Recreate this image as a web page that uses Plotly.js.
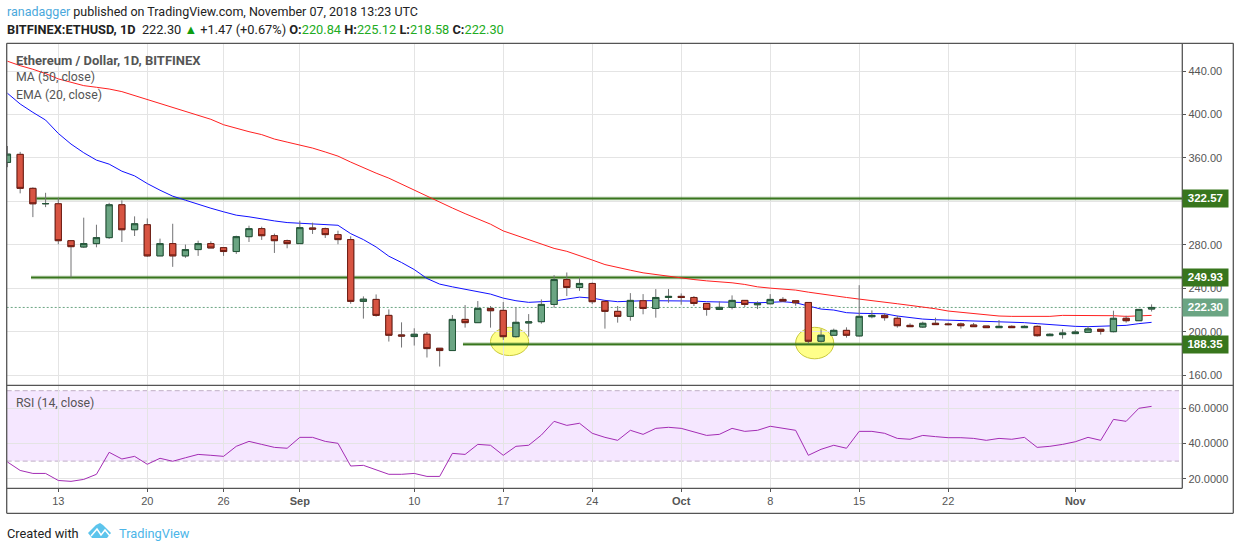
<!DOCTYPE html>
<html>
<head>
<meta charset="utf-8">
<script src="https://cdn.plot.ly/plotly-3.0.1.min.js"></script>
<style>body { margin: 0; background: #fff; }</style>
</head>
<body>
<div id="myDiv"></div>
<script>
var dates = ['2018-08-09','2018-08-10','2018-08-11','2018-08-12','2018-08-13','2018-08-14','2018-08-15','2018-08-16','2018-08-17','2018-08-18',
  '2018-08-19','2018-08-20','2018-08-21','2018-08-22','2018-08-23','2018-08-24','2018-08-25','2018-08-26','2018-08-27','2018-08-28',
  '2018-08-29','2018-08-30','2018-08-31','2018-09-01','2018-09-02','2018-09-03','2018-09-04','2018-09-05','2018-09-06','2018-09-07',
  '2018-09-08','2018-09-09','2018-09-10','2018-09-11','2018-09-12','2018-09-13','2018-09-14','2018-09-15','2018-09-16','2018-09-17',
  '2018-09-18','2018-09-19','2018-09-20','2018-09-21','2018-09-22','2018-09-23','2018-09-24','2018-09-25','2018-09-26','2018-09-27',
  '2018-09-28','2018-09-29','2018-09-30','2018-10-01','2018-10-02','2018-10-03','2018-10-04','2018-10-05','2018-10-06','2018-10-07',
  '2018-10-08','2018-10-09','2018-10-10','2018-10-11','2018-10-12','2018-10-13','2018-10-14','2018-10-15','2018-10-16','2018-10-17',
  '2018-10-18','2018-10-19','2018-10-20','2018-10-21','2018-10-22','2018-10-23','2018-10-24','2018-10-25','2018-10-26','2018-10-27',
  '2018-10-28','2018-10-29','2018-10-30','2018-10-31','2018-11-01','2018-11-02','2018-11-03','2018-11-04','2018-11-05','2018-11-06',
  '2018-11-07'];

var open = [355.9,363.3,332.0,317.8,317.8,283.8,278.0,281.1,286.6,316.9,
  293.9,298.5,269.8,281.1,269.8,275.6,281.1,277.4,273.8,287.5,
  294.9,288.4,283.8,281.1,295.5,294.9,289.4,284.8,227.9,229.7,
  215.0,197.0,195.5,197.6,184.7,182.6,211.3,208.3,221.4,219.6,
  195.4,208.0,209.2,225.1,248.0,240.7,244.4,227.9,218.7,214.1,
  228.5,221.4,231.5,232.5,231.5,226.0,220.5,222.4,228.8,224.8,
  225.7,229.7,228.5,226.9,191.2,196.7,201.2,196.1,213.8,215.0,
  212.3,205.8,204.3,207.7,207.1,207.1,206.1,205.2,203.7,204.9,
  203.7,204.9,196.3,197.3,198.2,199.4,202.2,200.0,212.3,210.1,
  220.84];
var high = [371.0,365.6,332.9,327.9,323.3,283.8,305.0,298.5,318.7,320.9,
  306.2,304.3,285.7,299.4,280.2,283.8,283.2,277.4,288.4,297.6,
  296.7,290.3,284.8,302.2,300.4,295.8,293.0,287.8,232.5,234.3,
  220.5,208.6,203.1,199.7,184.7,215.3,224.5,228.2,223.6,227.3,
  222.4,216.2,229.7,252.0,254.5,249.9,245.3,227.9,223.6,235.5,
  234.6,239.2,239.2,235.2,232.8,226.0,227.9,233.4,228.8,227.9,
  234.6,231.8,228.5,226.9,202.2,202.8,204.0,242.8,219.6,216.9,
  214.7,207.7,209.2,212.9,208.3,208.3,208.0,205.2,210.7,205.8,
  205.8,205.8,198.5,202.2,201.6,205.0,202.2,219.3,214.7,220.5,
  225.12];
var low = [351.5,327.4,305.5,314.7,280.5,249.9,277.1,277.7,285.4,282.6,
  288.1,268.9,269.8,259.7,268.0,269.8,277.1,269.8,271.6,282.6,
  284.5,272.5,276.8,281.1,290.0,286.3,280.5,225.7,212.0,213.8,
  190.9,185.4,187.2,176.2,167.9,182.6,203.7,208.3,203.7,192.4,
  194.5,195.4,207.4,222.0,232.8,237.6,225.4,202.8,208.3,210.1,
  216.0,212.9,226.6,224.8,223.6,214.7,219.9,220.5,222.7,220.8,
  225.1,228.2,223.9,188.7,190.0,196.7,194.5,195.5,212.3,210.1,
  203.7,204.6,203.4,206.5,205.8,202.8,204.6,203.7,203.7,203.7,
  203.7,195.4,196.0,193.6,198.2,199.4,197.3,199.4,208.3,210.1,
  218.58];
var close = [363.5,332.0,317.8,318.0,283.8,278.3,281.1,286.6,316.9,293.9,
  299.4,269.8,281.1,269.8,275.6,281.1,277.1,273.8,287.5,294.9,
  288.4,283.8,281.1,295.8,294.5,289.4,284.8,227.9,229.9,215.0,
  196.7,196.0,197.6,184.4,182.6,211.3,208.3,221.4,219.3,195.4,
  208.6,209.0,225.1,248.0,240.7,244.4,227.6,218.7,214.1,228.8,
  221.4,231.5,232.5,231.5,226.0,220.5,222.4,228.8,225.1,226.0,
  229.7,228.2,226.6,191.2,196.7,201.2,196.7,214.1,215.0,212.9,
  205.5,204.6,207.7,206.5,206.5,205.5,204.6,203.7,204.9,203.7,
  204.9,196.3,197.6,198.8,199.7,202.5,200.3,212.3,210.1,220.5,
  222.30];

var ma50 = [449.1,445.0,441.7,437.7,432.8,429.4,426.6,425.1,423.5,421.1,
  417.4,414.1,410.3,406.9,403.3,399.6,395.6,390.6,387.3,384.2,
  381.5,377.4,374.6,371.9,369.1,365.5,361.7,356.2,351.0,346.0,
  341.4,335.9,330.3,325.1,318.9,313.9,308.7,304.2,299.0,292.8,
  288.8,284.2,280.1,276.7,274.0,270.3,266.0,261.8,259.0,256.6,
  254.2,252.6,251.1,249.3,248.0,246.8,246.2,245.0,243.5,241.3,
  240.1,238.9,238.3,236.4,234.6,233.1,231.5,230.0,228.8,227.3,
  225.7,224.2,222.7,221.1,219.0,217.8,216.2,215.0,214.4,214.1,
  214.1,214.1,214.1,215.0,215.0,215.0,215.0,214.7,214.1,214.7,
  215.0];
var ema20 = [419.6,409.7,402.0,394.9,382.6,372.8,364.8,358.0,354.3,347.8,
  343.5,336.4,330.3,324.8,321.1,317.1,313.7,310.4,307.3,305.8,
  303.8,302.0,300.5,299.9,299.6,298.6,298.0,290.3,284.8,278.0,
  269.5,263.7,257.2,249.0,243.8,241.3,238.9,236.4,234.6,230.9,
  228.5,227.0,227.3,228.2,230.0,231.8,230.9,228.8,227.6,228.2,
  228.5,228.5,228.5,228.5,228.2,227.6,227.3,227.0,226.6,226.6,
  227.0,227.6,226.6,223.6,220.8,219.9,217.5,216.9,216.9,216.5,
  214.4,212.9,211.6,211.0,210.7,210.4,210.1,209.8,209.2,208.9,
  208.3,207.4,206.5,205.2,204.9,204.6,204.9,205.2,205.8,207.4,
  208.6];
var rsi = [29.5,24.7,23.0,23.0,19.0,18.5,19.6,22.5,35.0,31.2,
  32.7,28.2,31.6,29.9,31.9,33.8,33.3,32.7,38.4,41.2,
  39.5,37.8,37.3,43.5,43.5,41.2,40.1,27.2,27.6,25.1,
  22.5,22.5,23.0,21.3,21.3,34.4,33.8,39.5,39.0,33.3,
  38.4,39.0,44.8,52.6,50.3,51.5,45.8,43.5,41.8,47.5,
  45.2,48.6,49.2,48.6,46.4,44.6,45.2,48.6,46.9,47.5,
  49.8,48.6,47.5,33.3,36.7,39.0,37.3,46.9,46.9,45.8,
  42.9,42.4,44.6,43.9,43.3,43.3,42.9,41.8,42.9,42.4,
  43.5,37.8,38.4,39.5,41.0,43.5,41.8,53.7,52.6,60.0,
  61.1];

var levelValues = [322.57, 249.93, 188.35];
var levelStarts = ['2018-08-11 07:00', '2018-08-10 20:30', '2018-09-13 20:00'];
var lastPrice = 222.30;

var priceTicks = [160, 200, 240, 280, 320, 360, 400, 440];
var priceLabels = ['160.00', '200.00', '240.00', '280.00', '', '360.00', '400.00', '440.00'];
var rsiTicks = [20, 40, 60];
var timeTicks = ['2018-08-13','2018-08-20','2018-08-26','2018-09-01','2018-09-10','2018-09-17','2018-09-24','2018-10-01','2018-10-08','2018-10-15','2018-10-22','2018-11-01'];
var timeLabels = ['13','20','26','<b>Sep</b>','10','17','24','<b>Oct</b>','8','15','22','<b>Nov</b>'];

var W = 1240, H = 550;
function fx(px) { return px / W; }
function fy(py) { return 1 - py / H; }

var xRange = ['2018-08-08 22:35', '2018-11-09 10:00'];
var priceRange = [150.6, 465.6];
var rsiRange = [14.55, 73.07];

var axisGrey = '#555555';
var uiFont = 'Roboto, sans-serif';
var tickFont = {family: '"Liberation Sans", Arial, sans-serif', size: 11, color: axisGrey};

var data = [];

// level lines, drawn under the candles
for (var i = 0; i < levelValues.length; i++) {
  var lx = [levelStarts[i], xRange[1]];
  var ly = [levelValues[i], levelValues[i]];
  data.push({type: 'scatter', mode: 'lines', x: lx, y: ly, yaxis: 'y', hoverinfo: 'skip',
    line: {color: 'rgba(56,118,29,0.45)', width: 3.5}});
  data.push({type: 'scatter', mode: 'lines', x: lx, y: ly, yaxis: 'y', hoverinfo: 'skip',
    line: {color: '#38761d', width: 1.5}});
}

data.push({type: 'scatter', mode: 'lines', x: xRange, y: [lastPrice, lastPrice], yaxis: 'y', hoverinfo: 'skip',
  line: {color: '#6ba583', width: 1, dash: '2px 2px'}});
data.push({type: 'scatter', mode: 'lines', name: 'MA (50, close)', x: dates, y: ma50, yaxis: 'y',
  line: {color: '#ff2020', width: 1}});
data.push({type: 'scatter', mode: 'lines', name: 'EMA (20, close)', x: dates, y: ema20, yaxis: 'y',
  line: {color: '#1010ff', width: 1}});

var bodyTop = [], bodyBottom = [];
for (var j = 0; j < open.length; j++) {
  bodyTop.push(Math.max(open[j], close[j]));
  bodyBottom.push(Math.min(open[j], close[j]));
}
var candleWidth = 0.66 * 86400000;

// wicks are grey, the body is a second candlestick with no wick of its own
data.push({type: 'candlestick', x: dates, open: open, high: high, low: low, close: close, yaxis: 'y3',
  width: candleWidth, hoverinfo: 'skip',
  increasing: {line: {color: '#737375', width: 1}, fillcolor: '#6ba583'},
  decreasing: {line: {color: '#737375', width: 1}, fillcolor: '#d75442'}});
data.push({type: 'candlestick', x: dates, open: open, high: bodyTop, low: bodyBottom, close: close, yaxis: 'y3',
  width: candleWidth,
  increasing: {line: {color: '#225437', width: 1}, fillcolor: '#6ba583'},
  decreasing: {line: {color: '#6e1c12', width: 1}, fillcolor: '#d75442'}});

data.push({type: 'scatter', mode: 'lines', name: 'RSI (14, close)', x: dates, y: rsi, yaxis: 'y2',
  line: {color: '#a32cb4', width: 1}});

function frameLine(x0, y0, x1, y1) {
  return {type: 'line', xref: 'paper', yref: 'paper', x0: fx(x0), y0: fy(y0), x1: fx(x1), y1: fy(y1),
    layer: 'above', line: {color: axisGrey, width: 1.3}};
}
function pxPath(points) {
  var s = '';
  for (var k = 0; k < points.length; k++) {
    s += (k ? 'L' : 'M') + fx(points[k][0]) + ',' + fy(points[k][1]);
  }
  return s;
}

var shapes = [
  // circles round the two lows
  {type: 'circle', xref: 'x', yref: 'y', x0: '2018-09-16', x1: '2018-09-19', y0: 178, y1: 204, layer: 'below',
    fillcolor: 'rgba(255,255,60,0.6)', line: {color: '#c9c93c', width: 1}},
  {type: 'circle', xref: 'x', yref: 'y', x0: '2018-10-10', x1: '2018-10-13', y0: 175, y1: 204, layer: 'below',
    fillcolor: 'rgba(255,255,60,0.6)', line: {color: '#c9c93c', width: 1}},
  // rsi band
  {type: 'rect', xref: 'paper', yref: 'y2', x0: fx(6.7), x1: fx(1179), y0: 30, y1: 70, layer: 'below',
    fillcolor: 'rgba(153,21,255,0.1)', line: {width: 0}},
  {type: 'line', xref: 'paper', yref: 'y2', x0: fx(6.7), x1: fx(1179), y0: 70, y1: 70, layer: 'below',
    line: {color: '#bfaec6', width: 1, dash: '5px 3px'}},
  {type: 'line', xref: 'paper', yref: 'y2', x0: fx(6.7), x1: fx(1179), y0: 30, y1: 30, layer: 'below',
    line: {color: '#bfaec6', width: 1, dash: '5px 3px'}},
  // frame
  frameLine(6.7, 43.3, 1233.3, 43.3),
  frameLine(6.7, 385.3, 1233.3, 385.3),
  frameLine(6.7, 488.3, 1182.3, 488.3),
  frameLine(6.7, 513.3, 1233.3, 513.3),
  frameLine(6.7, 43.3, 6.7, 513.3),
  frameLine(1233.3, 43.3, 1233.3, 513.3),
  frameLine(1182.3, 43.3, 1182.3, 488.3),
  // logo
  {type: 'path', xref: 'paper', yref: 'paper', layer: 'above', fillcolor: '#5cc4ec', line: {width: 0},
    path: pxPath([[88,533],[96,525],[100,523],[103,525],[111,533],[107,538],[92,538]]) + 'Z'},
  {type: 'path', xref: 'paper', yref: 'paper', layer: 'above', line: {color: '#ffffff', width: 1.5},
    path: pxPath([[91,536],[97,529],[101,535],[105,530],[110,536]])}
];

function label(text, px, py, size, color) {
  return {xref: 'paper', yref: 'paper', x: fx(px), y: fy(py), xanchor: 'left', yanchor: 'middle',
    text: text, showarrow: false, align: 'left', borderpad: 0,
    font: {family: uiFont, size: size, color: color}};
}
function priceTag(value, color) {
  return {xref: 'paper', yref: 'y', x: fx(1182.3), y: value, xanchor: 'left', yanchor: 'middle',
    text: '<b>' + value.toFixed(2) + '</b>', showarrow: false, bgcolor: color,
    width: 44.7, height: 16.7, borderpad: 0, align: 'center',
    font: {family: '"Liberation Sans", Arial, sans-serif', size: 11.5, color: '#ffffff'}};
}
var up = '#22ab22';

var annotations = [
  label('<span style="color:#4aa8dc">ranadagger</span> published on TradingView.com, November 07, 2018 13:23 UTC', 6, 11.5, 12.5, '#222222'),
  label('<b>BITFINEX:ETHUSD, 1D</b>  222.30 <span style="color:#0f9d0f">▲</span> +1.47 (+0.67%) <b>O:</b><span style="color:' + up + '">220.84</span> <b>H:</b><span style="color:' + up + '">225.12</span> <b>L:</b><span style="color:' + up + '">218.58</span> <b>C:</b><span style="color:' + up + '">222.30</span>', 6, 29.5, 12.8, '#222222'),
  label('<b>Ethereum / Dollar, 1D, BITFINEX</b>', 15, 60.5, 13, axisGrey),
  label('MA (50, close)', 15, 77.5, 12.3, axisGrey),
  label('EMA (20, close)', 15, 95, 12.3, axisGrey),
  label('RSI (14, close)', 15, 402.5, 12.3, axisGrey),
  label('Created with', 6, 533, 12.8, '#222222'),
  label('TradingView', 118, 533, 12.8, '#4cb5e8'),
  priceTag(levelValues[0], '#38761d'),
  priceTag(levelValues[1], '#38761d'),
  priceTag(levelValues[2], '#38761d'),
  priceTag(lastPrice, '#6ba583')
];

var layout = {
  width: W,
  height: H,
  margin: {l: 0, r: 0, t: 0, b: 0, pad: 0},
  showlegend: false,
  paper_bgcolor: '#ffffff',
  plot_bgcolor: 'rgba(0,0,0,0)',
  xaxis: {
    domain: [fx(6.7), fx(1182.3)], anchor: 'y2', type: 'date', range: xRange,
    tickmode: 'array', tickvals: timeTicks, ticktext: timeLabels,
    ticks: 'outside', ticklen: 3, tickcolor: axisGrey, tickfont: tickFont, ticklabelstandoff: -1,
    showgrid: true, gridcolor: '#e4e4e4', gridwidth: 1, zeroline: false,
    rangeslider: {visible: false}
  },
  yaxis: {
    domain: [fy(385.3), fy(43.3)], anchor: 'x', side: 'right', range: priceRange,
    tickmode: 'array', tickvals: priceTicks, ticktext: priceLabels,
    ticks: 'outside', ticklen: 3, tickcolor: axisGrey, tickfont: tickFont,
    showgrid: true, gridcolor: '#e4e4e4', gridwidth: 1, zeroline: false
  },
  yaxis3: {
    overlaying: 'y', anchor: 'x', side: 'right', range: priceRange,
    showgrid: false, showticklabels: false, ticks: '', zeroline: false
  },
  yaxis2: {
    domain: [fy(488.3), fy(385.3)], anchor: 'x', side: 'right', range: rsiRange,
    tickmode: 'array', tickvals: rsiTicks, tickformat: '.4f',
    ticks: 'outside', ticklen: 3, tickcolor: axisGrey, tickfont: tickFont,
    showgrid: true, gridcolor: '#e4e4e4', gridwidth: 1, zeroline: false
  },
  shapes: shapes,
  annotations: annotations
};

Plotly.newPlot('myDiv', data, layout, {displayModeBar: false});
</script>
</body>
</html>
